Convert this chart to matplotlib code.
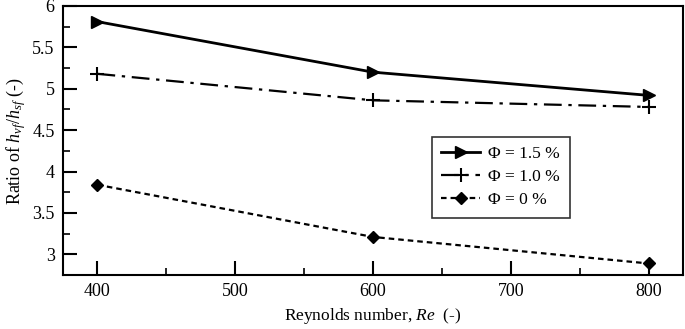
import matplotlib
matplotlib.use('Agg')
import matplotlib.pyplot as plt
from matplotlib.ticker import MultipleLocator

# data
reynolds = [400, 600, 800]
ratio_15 = [5.81, 5.20, 4.92]
ratio_10 = [5.18, 4.86, 4.78]
ratio_00 = [3.84, 3.21, 2.89]
labels = ['Φ = 1.5 %', 'Φ = 1.0 %', 'Φ = 0 %']

plt.rcParams['font.family'] = ['Liberation Serif', 'DejaVu Serif']
plt.rcParams['mathtext.fontset'] = 'custom'
plt.rcParams['mathtext.rm'] = 'Liberation Serif'
plt.rcParams['mathtext.it'] = 'Liberation Serif:italic'

fig = plt.figure(figsize=(6.85, 3.29), dpi=100)
ax = fig.add_axes([0.092, 0.164, 0.905, 0.818])

ax.plot(reynolds, ratio_15, color='black', lw=2, ls='-', marker='>', ms=8, label=labels[0])
ax.plot(reynolds, ratio_10, color='black', lw=1.6, ls=(0, (8, 3, 1.5, 3)), marker='+', ms=10, mew=1.5, label=labels[1])
ax.plot(reynolds, ratio_00, color='black', lw=1.6, ls=(0, (2.5, 1.8)), marker='D', ms=6, label=labels[2])

ax.set_xlim(375, 825)
ax.set_ylim(2.75, 6)
ax.xaxis.set_major_locator(MultipleLocator(100))
ax.xaxis.set_minor_locator(MultipleLocator(50))
ax.yaxis.set_major_locator(MultipleLocator(0.5))
ax.yaxis.set_minor_locator(MultipleLocator(0.25))
ax.yaxis.set_major_formatter(matplotlib.ticker.FuncFormatter(lambda v, p: '%g' % v))
ax.tick_params(which='major', direction='in', length=10, width=1.5, labelsize=13, pad=6)
ax.tick_params(which='minor', direction='in', length=5, width=1.2)
for s in ax.spines.values():
    s.set_linewidth(1.5)

ax.set_xlabel('Reynolds number, $Re$  (-)', fontsize=12.5, labelpad=4)
ax.set_ylabel('Ratio of $h_{vf}/h_{sf}$ (-)', fontsize=13, labelpad=3)

leg = ax.legend(loc='lower left', bbox_to_anchor=(0.595, 0.212), fontsize=12.5,
                frameon=True, fancybox=False, edgecolor='black', handlelength=2.2,
                handletextpad=0.5, borderpad=0.55, labelspacing=0.4, borderaxespad=0)
leg.get_frame().set_linewidth(1.2)

plt.savefig('out.png', dpi=100)
